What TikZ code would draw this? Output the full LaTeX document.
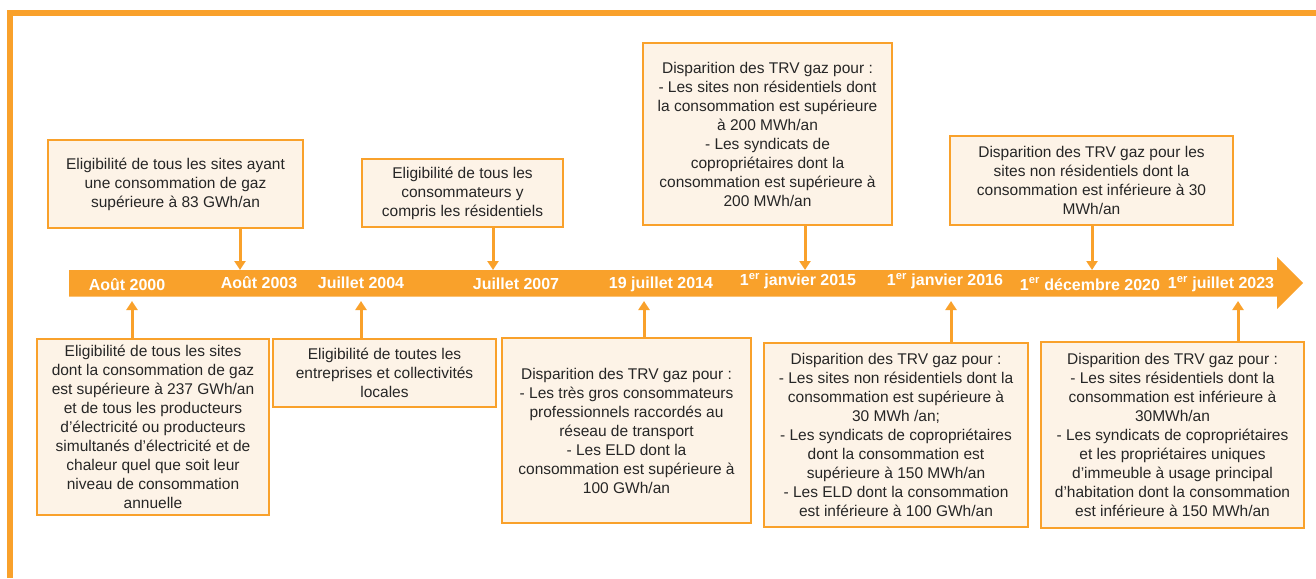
\documentclass[tikz,border=0pt]{standalone}
\usepackage{fontspec}
\setmainfont{Liberation Sans}
\usetikzlibrary{arrows.meta}
\definecolor{creorange}{RGB}{249,161,43}
\definecolor{crecream}{RGB}{253,243,231}
\definecolor{cretext}{RGB}{38,38,38}

\begin{document}
\begin{tikzpicture}[
  x=1pt, y=-1pt,
  every node/.style={font=\fontsize{15.5}{19}\selectfont, text=cretext},
  box/.style={draw=creorange, line width=1.5pt, fill=crecream, anchor=north west, inner sep=0pt, outer sep=0pt, align=center},
  date/.style={text=white, font=\fontsize{16}{19}\selectfont\bfseries, inner sep=0pt},
  link/.style={draw=creorange, line width=3pt, -{Triangle[width=11pt,length=9pt]}}
]
\useasboundingbox (0,0) rectangle (1316,578);
% frame
\draw[creorange, line width=5.5pt] (10,578) -- (10,13) -- (1316,13);
% timeline arrow
\fill[creorange] (69,270) -- (1277,270) -- (1277,257) -- (1303,283) -- (1277,309) -- (1277,296.5) -- (69,296.5) -- cycle;

% dates
\node[date] (d2000) at (127,285) {Août 2000};
\node[date] (d2003) at (259,283) {Août 2003};
\node[date] (d2004) at (361,283) {Juillet 2004};
\node[date] (d2007) at (516,284) {Juillet 2007};
\node[date] (d2014) at (661,284) {19 juillet 2014};
\node[date] (d2015) at (798,281) {1\textsuperscript{er} janvier 2015};
\node[date] (d2016) at (945,281) {1\textsuperscript{er} janvier 2016};
\node[date] (d2020) at (1090,284) {1\textsuperscript{er} décembre 2020};
\node[date] (d2023) at (1221,284) {1\textsuperscript{er} juillet 2023};

% boxes above
\node[box, minimum width=255pt, minimum height=88pt] (boxA) at (48,140) {Eligibilité de tous les sites ayant\\une consommation de gaz\\supérieure à 83 GWh/an};
\node[box, minimum width=201pt, minimum height=68pt] (boxB) at (362,159) {Eligibilité de tous les\\consommateurs y\\compris les résidentiels};
\node[box, minimum width=249pt, minimum height=182pt] (boxC) at (643,43) {Disparition des TRV gaz pour :\\- Les sites non résidentiels dont\\la consommation est supérieure\\à 200 MWh/an\\- Les syndicats de\\copropriétaires dont la\\consommation est supérieure à\\200 MWh/an};
\node[box, minimum width=283pt, minimum height=89pt] (boxD) at (950,136) {Disparition des TRV gaz pour les\\sites non résidentiels dont la\\consommation est inférieure à 30\\MWh/an};

% boxes below
\node[box, minimum width=232pt, minimum height=176pt] (boxE) at (37,339) {Eligibilité de tous les sites\\dont la consommation de gaz\\est supérieure à 237 GWh/an\\et de tous les producteurs\\d’électricité ou producteurs\\simultanés d’électricité et de\\chaleur quel que soit leur\\niveau de consommation\\annuelle};
\node[box, minimum width=223pt, minimum height=68pt] (boxF) at (273,339) {Eligibilité de toutes les\\entreprises et collectivités\\locales};
\node[box, minimum width=249pt, minimum height=185pt] (boxG) at (502,338) {Disparition des TRV gaz pour :\\- Les très gros consommateurs\\professionnels raccordés au\\réseau de transport\\- Les ELD dont la\\consommation est supérieure à\\100 GWh/an};
\node[box, minimum width=264pt, minimum height=184pt] (boxH) at (764,343) {Disparition des TRV gaz pour :\\- Les sites non résidentiels dont la\\consommation est supérieure à\\30 MWh /an;\\- Les syndicats de copropriétaires\\dont la consommation est\\supérieure à 150 MWh/an\\- Les ELD dont la consommation\\est inférieure à 100 GWh/an};
\node[box, minimum width=263pt, minimum height=186pt] (boxI) at (1041,342) {Disparition des TRV gaz pour :\\- Les sites résidentiels dont la\\consommation est inférieure à\\30MWh/an\\- Les syndicats de copropriétaires\\et les propriétaires uniques\\d’immeuble à usage principal\\d’habitation dont la consommation\\est inférieure à 150 MWh/an};

% points on the timeline
\coordinate (tA) at (240,270);
\coordinate (tB) at (493,270);
\coordinate (tC) at (805,270);
\coordinate (tD) at (1092,270);
\coordinate (tE) at (132,301);
\coordinate (tF) at (361,301);
\coordinate (tG) at (644,301);
\coordinate (tH) at (951,301);
\coordinate (tI) at (1238,301);

% arrows
\draw[link] (tA |- boxA.south) -- (tA);
\draw[link] (tB |- boxB.south) -- (tB);
\draw[link] (tC |- boxC.south) -- (tC);
\draw[link] (tD |- boxD.south) -- (tD);
\draw[link] (tE |- boxE.north) -- (tE);
\draw[link] (tF |- boxF.north) -- (tF);
\draw[link] (tG |- boxG.north) -- (tG);
\draw[link] (tH |- boxH.north) -- (tH);
\draw[link] (tI |- boxI.north) -- (tI);
\end{tikzpicture}
\end{document}
